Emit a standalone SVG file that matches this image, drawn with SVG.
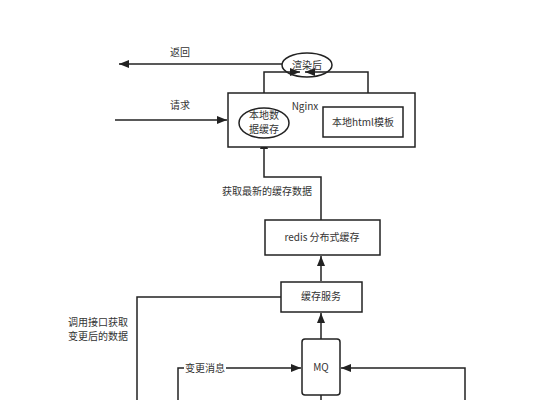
<svg xmlns="http://www.w3.org/2000/svg" width="547" height="400" viewBox="0 0 547 400">
<defs>
<marker id="ah" viewBox="0 0 10 8" refX="10" refY="4" markerWidth="10" markerHeight="8" markerUnits="userSpaceOnUse" orient="auto">
<path d="M0,0 L10,4 L0,8 z" fill="#222"/>
</marker>
<style>
.ln{fill:none;stroke:#222;stroke-width:1.5}
.bx{fill:#fff;stroke:#222;stroke-width:1.5}
.t{font-family:"Noto Sans CJK SC","Liberation Sans",sans-serif;font-size:10px;fill:#333}
.c{text-anchor:middle}
</style>
</defs>
<rect width="547" height="400" fill="#fff"/>
<g id="connectors">
<path class="ln" d="M115,120 H227" marker-end="url(#ah)"/>
<path class="ln" d="M282,64 H119" marker-end="url(#ah)"/>
<path class="ln" d="M264,108 V72 H300" marker-end="url(#ah)"/>
<path class="ln" d="M368,107 V72 H305" marker-end="url(#ah)"/>
<path class="ln" d="M321,220 V177 H264 V139" marker-end="url(#ah)"/>
<path class="ln" d="M321,281 V256" marker-end="url(#ah)"/>
<path class="ln" d="M321,339 V313" marker-end="url(#ah)"/>
<path class="ln" d="M281,297 H137 V400"/>
<path class="ln" d="M178,400 V368 H301" marker-end="url(#ah)"/>
<path class="ln" d="M465,400 V368 H341" marker-end="url(#ah)"/>
<path class="ln" d="M321,395 V400"/>
<rect x="184" y="361" width="42" height="14" fill="#fff"/>
<text class="t" x="185" y="372">变更消息</text>
<text class="t c" x="180" y="56">返回</text>
<text class="t c" x="180" y="109">请求</text>
<text class="t c" x="267" y="195">获取最新的缓存数据</text>
<text class="t c" x="98" y="326">调用接口获取</text>
<text class="t c" x="98" y="340">变更后的数据</text>
</g>
<g id="nginx">
<rect class="bx" x="228" y="93" width="187" height="54"/>
<text class="t c" x="305" y="110">Nginx</text>
</g>
<g id="html">
<rect class="bx" x="323" y="107" width="80" height="30"/>
<text class="t c" x="363" y="126">本地html模板</text>
</g>
<g id="local-cache">
<ellipse class="bx" cx="264" cy="123" rx="25" ry="15"/>
<text class="t c" x="264" y="119">本地数</text>
<text class="t c" x="264" y="133">据缓存</text>
</g>
<g id="rendered">
<ellipse class="bx" cx="307" cy="65" rx="25" ry="12" style="fill:none"/>
<text class="t c" x="307" y="69">渲染后</text>
</g>
<g id="redis">
<rect class="bx" x="265" y="220" width="115" height="35"/>
<text class="t c" x="322" y="241">redis 分布式缓存</text>
</g>
<g id="cache-service">
<rect class="bx" x="281" y="282" width="81" height="30"/>
<text class="t c" x="321" y="300">缓存服务</text>
</g>
<g id="mq">
<rect class="bx" x="302" y="339" width="38" height="56" rx="3"/>
<text class="t c" x="321" y="371">MQ</text>
</g>
</svg>
